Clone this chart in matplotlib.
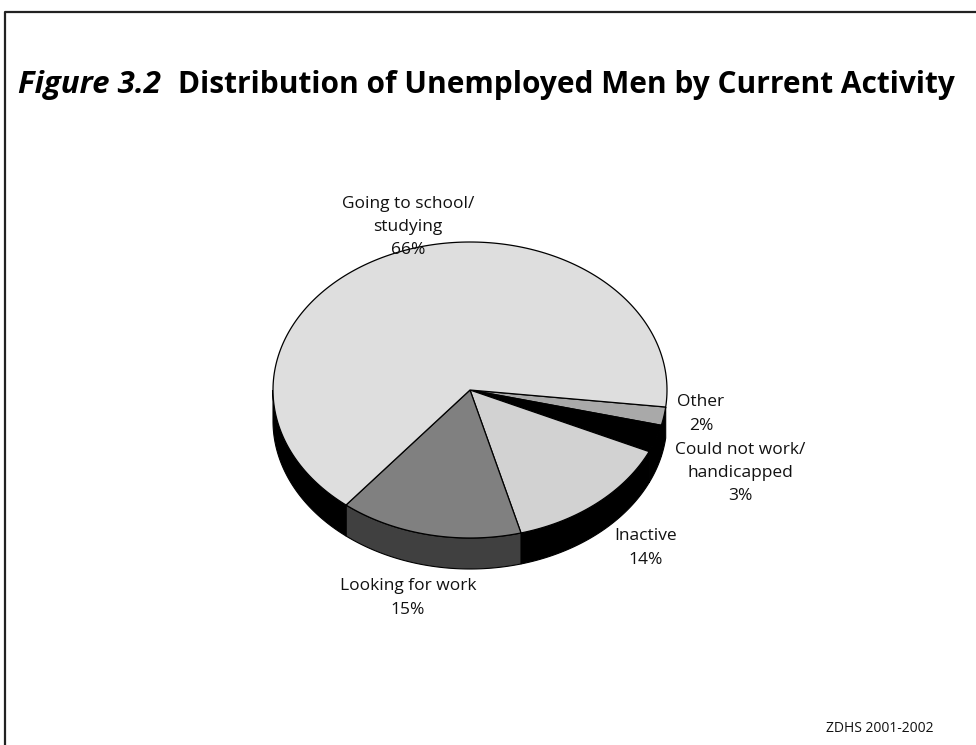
import numpy as np
import matplotlib.pyplot as plt
from matplotlib.patches import Polygon

# data, clockwise from the right side of the pie
labels = ["Other\n2%", "Could not work/\nhandicapped\n3%", "Inactive\n14%",
          "Looking for work\n15%", "Going to school/\nstudying\n66%"]
values = [2, 3, 14, 15, 66]
top_colors = ["#a9a9a9", "#000000", "#d2d2d2", "#808080", "#dedede"]
side_colors = ["#000000", "#000000", "#000000", "#404040", "#000000"]

# label positions in pixels (figure is drawn in pixel coordinates)
label_pos = [(701, 414), (740, 473), (646, 548), (408, 598), (408, 227)]

W, H = 976, 745
fig = plt.figure(figsize=(W / 100, H / 100), dpi=100)
ax = fig.add_axes([0, 0, 1, 1])
ax.set_xlim(0, W)
ax.set_ylim(H, 0)
ax.axis("off")

plt.rcParams["font.family"] = ["Open Sans", "DejaVu Sans"]

# frame
ax.plot([5, 5, W + 5], [H + 5, 12, 12], color="#222222", lw=1.6, clip_on=False)

# title: italic figure number, then the bold title right after it
t1 = ax.text(18, 85, "Figure 3.2", fontsize=22.5, fontstyle="italic", fontweight="bold",
             va="center", ha="left")
fig.canvas.draw()
bb = t1.get_window_extent()
ax.text(bb.x1 + 17, 85, "Distribution of Unemployed Men by Current Activity",
        fontsize=21.5, fontweight="bold", va="center", ha="left")

cx, cy, rx, ry, depth = 470, 390, 197, 148, 31
start = -6.6
bounds = start - np.concatenate([[0], np.cumsum(values)]) * 3.6


def arc(t0, t1, n=80, dy=0):
    t = np.radians(np.linspace(t0, t1, n))
    return np.column_stack([cx + rx * np.cos(t), cy - ry * np.sin(t) + dy])


# sides (visible only for angles in the lower half)
for i in range(len(values)):
    a0, a1 = bounds[i + 1], bounds[i]
    for off in (0, -360):
        lo, hi = max(a0 + off, -180), min(a1 + off, 0)
        if hi <= lo:
            continue
        top = arc(lo, hi)
        bot = arc(hi, lo, dy=depth)
        ax.add_patch(Polygon(np.vstack([top, bot]), closed=True,
                             facecolor=side_colors[i], edgecolor="black", lw=0.8))

# top faces
for i in range(len(values)):
    pts = np.vstack([[cx, cy], arc(bounds[i + 1], bounds[i], n=200)])
    ax.add_patch(Polygon(pts, closed=True, facecolor=top_colors[i],
                         edgecolor="black", lw=0.9))

for lab, (x, y) in zip(labels, label_pos):
    ax.text(x, y, lab, ha="center", va="center", fontsize=12.5,
            linespacing=1.6, color="#111111")

ax.text(880, 728, "ZDHS 2001-2002", ha="center", va="center", fontsize=10,
        color="#111111")

fig.savefig("out.png", dpi=100)
